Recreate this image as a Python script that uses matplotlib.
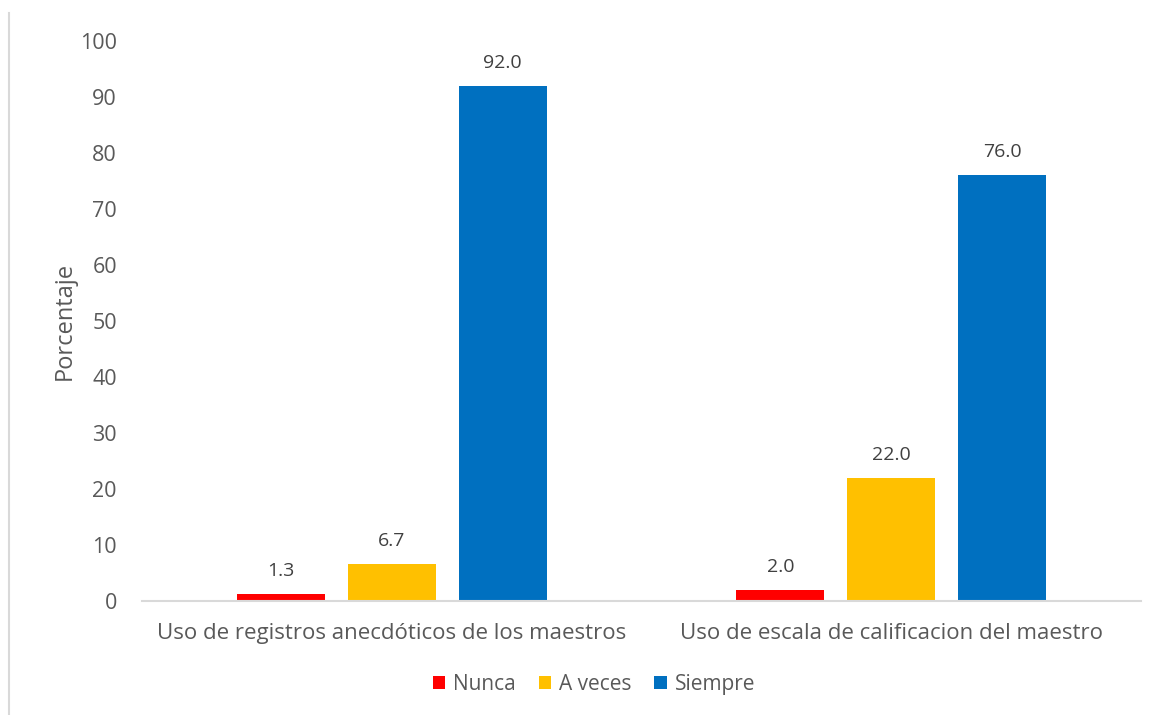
import matplotlib
matplotlib.use("Agg")
import matplotlib.pyplot as plt
from matplotlib.lines import Line2D
from matplotlib.patches import Patch
import numpy as np

categories = ["Uso de registros anecdóticos de los maestros", "Uso de escala de calificacion del maestro"]
series_names = ["Nunca", "A veces", "Siempre"]
nunca = [1.3, 2.0]
a_veces = [6.7, 22.0]
siempre = [92.0, 76.0]
colors = ["#FF0000", "#FFC000", "#0070C0"]
yticks = list(range(0, 101, 10))

plt.rcParams['font.family'] = ['Open Sans', 'DejaVu Sans']
txt = "#595959"

fig = plt.figure(figsize=(11.58, 7.15), dpi=100)
ax = fig.add_axes([0.1226, 0.1594, 0.8627, 0.7833])

x = np.arange(len(categories))
w = 0.176
step = 0.222
for i, (vals, c, name) in enumerate(zip([nunca, a_veces, siempre], colors, series_names)):
    pos = x + (i - 1) * step
    ax.bar(pos, vals, width=w, color=c, label=name)
    for p, v in zip(pos, vals):
        ax.text(p, v + 2.5, f"{v:.1f}", ha="center", va="bottom", fontsize=14, color="#404040")

ax.set_xlim(-0.5, 1.5)
ax.set_ylim(0, 100)
ax.set_yticks(yticks)
ax.set_xticks(x)
ax.set_xticklabels(categories)
ax.tick_params(axis="y", length=0, labelsize=15.5, colors=txt, pad=18)
ax.tick_params(axis="x", length=0, labelsize=16, colors=txt, pad=16)
for s in ["top", "right", "left"]:
    ax.spines[s].set_visible(False)
ax.spines["bottom"].set_color("#D9D9D9")
ax.spines["bottom"].set_linewidth(1.5)
ax.set_ylabel("Porcentaje", fontsize=17, color=txt, labelpad=2.5)

handles = [Patch(facecolor=c, edgecolor="none") for c in colors]
fig.legend(handles, series_names, loc="center", bbox_to_anchor=(0.513, 0.043), ncol=3,
           frameon=False, fontsize=15, labelcolor=txt, handlelength=0.6, handleheight=0.6,
           handletextpad=0.4, columnspacing=1.07)

fig.add_artist(Line2D([0.0078, 0.0078], [0.0, 0.982], color="#D9D9D9", lw=1.5, transform=fig.transFigure))

fig.savefig("out.png", dpi=100)
